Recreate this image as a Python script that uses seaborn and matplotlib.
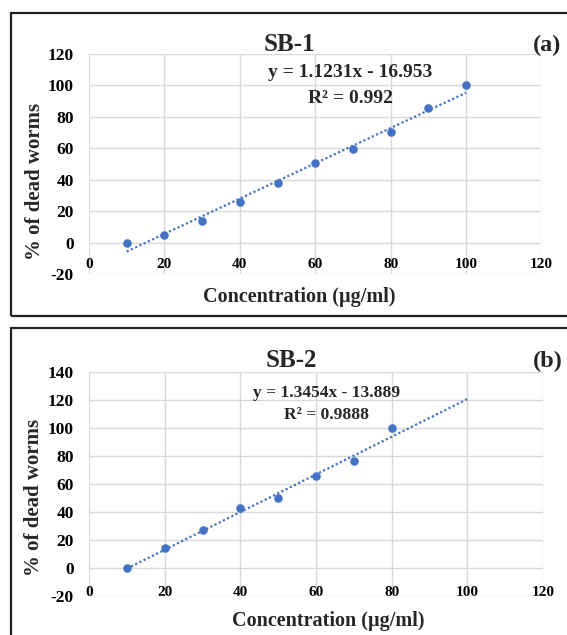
import numpy as np
import pandas as pd
import matplotlib
matplotlib.use("Agg")
import matplotlib.pyplot as plt
from matplotlib.patches import Rectangle
import seaborn as sns

# ---- data ----
conc_a = [10, 20, 30, 40, 50, 60, 70, 80, 90, 100]
dead_a = [0, 5, 14, 26, 38, 50.5, 59.5, 70.5, 85.5, 100]
conc_b = [10, 20, 30, 40, 50, 60, 70, 80]
dead_b = [0, 14, 27.5, 43, 50, 65.5, 76.5, 100]
slope_a, intercept_a, r2_a = 1.1231, -16.953, "0.992"
slope_b, intercept_b, r2_b = 1.3454, -13.889, "0.9888"
trend_range = [10, 100]
titles = ["SB-1", "SB-2"]
panel_tags = ["(a)", "(b)"]
x_ticks = [0, 20, 40, 60, 80, 100, 120]
y_ticks_a = [-20, 0, 20, 40, 60, 80, 100, 120]
y_ticks_b = [-20, 0, 20, 40, 60, 80, 100, 120, 140]
xlabel = "Concentration (µg/ml)"
ylabel = "% of dead worms"

sns.set_theme(style="white")
plt.rcParams["font.family"] = ["Liberation Serif", "DejaVu Serif"]
plt.rcParams["font.weight"] = "bold"

W, H = 567, 635
fig = plt.figure(figsize=(W / 100, H / 100), dpi=100)
fig.patch.set_facecolor("white")

blue = "#4472C4"
grid_c = "#d9d9d9"


def fx(px):
    return px / W


def fy(py):
    return 1 - py / H


# panel borders
fig.patches.append(Rectangle((fx(11), fy(316)), fx(600 - 11), fy(13) - fy(316),
                             transform=fig.transFigure, fill=False,
                             edgecolor="#222222", linewidth=1.6))
fig.patches.append(Rectangle((fx(11), fy(680)), fx(600 - 11), fy(328) - fy(680),
                             transform=fig.transFigure, fill=False,
                             edgecolor="#222222", linewidth=1.6))

panels = [
    dict(rect=[fx(89), fy(274), fx(541.5) - fx(89), fy(54) - fy(274)],
         x=conc_a, y=dead_a, slope=slope_a, icpt=intercept_a, r2=r2_a,
         yticks=y_ticks_a, ylim=(-20, 120), xpad=11,
         title_xy=(289, 51), tag_xy=(547, 51),
         eq_x=350, eq_y=(77, 103), eq_fs=14,
         xl_xy=(299, 302), yl_xy=(35, 181)),
    dict(rect=[fx(89), fy(596), fx(543) - fx(89), fy(372) - fy(596)],
         x=conc_b, y=dead_b, slope=slope_b, icpt=intercept_b, r2=r2_b,
         yticks=y_ticks_b, ylim=(-20, 140), xpad=13,
         title_xy=(291, 367), tag_xy=(548, 367),
         eq_x=327, eq_y=(397, 419), eq_fs=12.5,
         xl_xy=(328, 626), yl_xy=(34, 497)),
]

for i, p in enumerate(panels):
    ax = fig.add_axes(p["rect"])
    ax.set_facecolor("white")
    df = pd.DataFrame({"x": p["x"], "y": p["y"]})
    tx = np.array(trend_range, dtype=float)
    tdf = pd.DataFrame({"x": tx, "y": p["slope"] * tx + p["icpt"]})
    sns.lineplot(data=tdf, x="x", y="y", ax=ax, color=blue, linewidth=1.6,
                 linestyle=(0, (1, 1.1)), zorder=3)
    sns.scatterplot(data=df, x="x", y="y", ax=ax, color=blue, s=38,
                    edgecolor=blue, linewidth=0, zorder=4)
    ax.set_xlim(0, 120)
    ax.set_ylim(*p["ylim"])
    ax.set_xticks(x_ticks)
    ax.set_yticks(p["yticks"])
    ax.set_xticklabels([str(v) for v in x_ticks], fontsize=12.5, fontweight="bold")
    ax.set_yticklabels([str(v) for v in p["yticks"]], fontsize=12.5, fontweight="bold")
    ax.grid(True, color=grid_c, linewidth=1.0)
    ax.set_axisbelow(True)
    for s in ["top", "right", "left"]:
        ax.spines[s].set_visible(False)
    ax.spines["bottom"].set_position(("data", 0))
    ax.spines["bottom"].set_visible(False)
    ax.tick_params(axis="x", length=0, pad=p["xpad"], colors="black")
    ax.tick_params(axis="y", length=0, pad=11, colors="black")
    ax.set_xlabel("")
    ax.set_ylabel("")

    fig.text(fx(p["title_xy"][0]), fy(p["title_xy"][1]), titles[i],
             ha="center", va="baseline", fontsize=18, fontweight="bold")
    fig.text(fx(p["tag_xy"][0]), fy(p["tag_xy"][1]), panel_tags[i],
             ha="center", va="baseline", fontsize=17.5, fontweight="bold")
    eq = f"y = {p['slope']}x - {abs(p['icpt'])}"
    fig.text(fx(p["eq_x"]), fy(p["eq_y"][0]), eq, ha="center", va="baseline",
             fontsize=p["eq_fs"], fontweight="bold")
    fig.text(fx(p["eq_x"]), fy(p["eq_y"][1]), f"R² = {p['r2']}", ha="center",
             va="baseline", fontsize=p["eq_fs"], fontweight="bold")
    fig.text(fx(p["xl_xy"][0]), fy(p["xl_xy"][1]), xlabel, ha="center",
             va="baseline", fontsize=14.5, fontweight="bold")
    fig.text(fx(p["yl_xy"][0]), fy(p["yl_xy"][1]), ylabel, ha="center",
             va="center", rotation=90, fontsize=15, fontweight="bold")

fig.savefig("out.png", dpi=100)
